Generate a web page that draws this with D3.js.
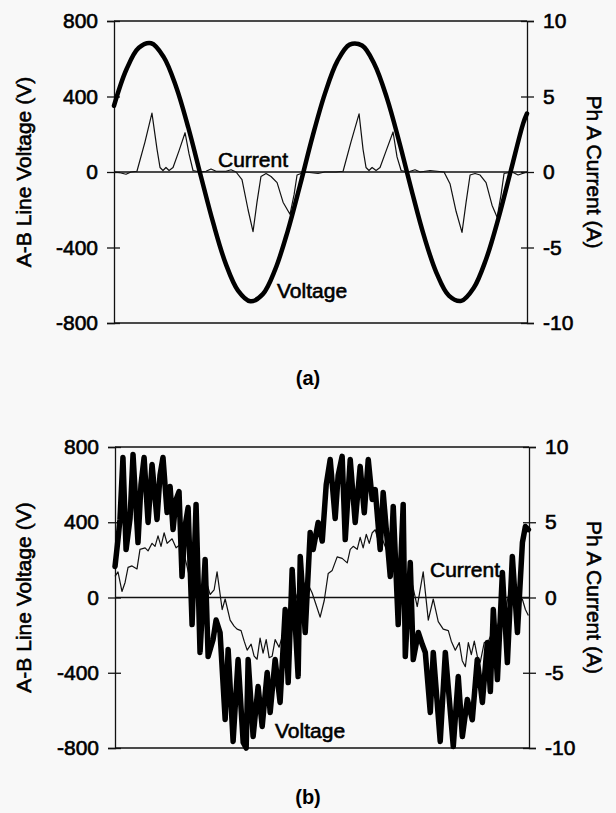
<!DOCTYPE html>
<html>
<head>
<meta charset="utf-8">
<script src="https://cdn.jsdelivr.net/npm/d3@7"></script>
<style>
  body { margin: 0; background: #f8f8f8; }
  svg { display: block; }
  text { font-family: "Liberation Sans", Arial, sans-serif; fill: #000; }
</style>
</head>
<body>
<svg id="board" width="616" height="813"></svg>
<script>
// time in ms, voltage in V, current in A
const voltTicks = [-800, -400, 0, 400, 800];
const ampTicks = [-10, -5, 0, 5, 10];

// (a) sinusoidal supply
const voltageA = [[0,351],[1,543],[2,658],[3,682],[4,610],[5,453],[6,233],[7,-21],[8,-270],[9,-484],
  [10,-628],[11,-685],[12,-647],[13,-516],[14,-314],[15,-70],[16,186],[17,414],[18,586],[19,675],
  [20,670],[21,571],[22,393],[23,159],[24,-98],[25,-340],[26,-534],[27,-655],[28,-683],[29,-615],
  [30,-462],[31,-244],[32,8],[33,259],[33.3,310]];
const currentA = [[0,0],[0.48,-0.05],[0.97,-0.15],[1.37,0],[1.85,0.05],[2.5,2.0],[3.06,3.9],[3.47,1.5],
  [3.71,0.3],[3.95,0.1],[4.19,0.3],[4.44,0.1],[4.76,0.3],[5.24,1.4],[5.73,2.6],[6.05,1.2],[6.37,0.1],
  [6.94,0],[7.42,0.05],[7.82,0.2],[8.23,0.05],[9.03,0.05],[9.44,0.15],[9.84,0],[10.32,-0.5],[10.81,-2.5],
  [11.21,-3.95],[11.53,-2.0],[11.85,-0.3],[12.26,-0.1],[12.66,-0.3],[13.15,-0.7],[13.63,-2.0],[14.19,-2.8],
  [14.52,-1.5],[14.76,-0.2],[15.4,0],[16.45,-0.1],[17.0,0],[17.9,0],[18.47,0.05],[19.11,2.0],[19.76,3.85],
  [20.08,1.5],[20.32,0.3],[20.56,0.1],[20.81,0.3],[21.13,0.1],[21.45,0.3],[21.94,1.4],[22.5,2.65],
  [22.82,1.0],[23.15,0.1],[23.71,0],[24.27,0.15],[24.68,0],[25.48,0.1],[26.05,0.05],[26.61,0],[27.1,-0.8],
  [27.58,-2.6],[28.06,-4.0],[28.39,-2.0],[28.71,-0.2],[29.11,-0.1],[29.52,-0.2],[30.0,-0.7],[30.48,-2.2],
  [30.89,-3.0],[31.21,-1.5],[31.45,-0.1],[32.1,0],[32.58,-0.2],[33.3,0]];

// (b) distorted supply
const voltageB = [[0,165],[0.24,308],[0.40,415],[0.64,744],[0.89,255],[1.21,420],[1.45,760],[1.85,292],
  [2.09,600],[2.34,744],[2.66,399],[2.98,707],[3.38,415],[3.62,650],[3.86,744],[4.19,452],[4.43,590],
  [4.67,361],[4.91,520],[5.15,563],[5.39,112],[5.64,380],[5.88,478],[6.20,-144],[6.52,494],[6.84,-292],
  [7.25,202],[7.49,-313],[7.89,-223],[8.13,-120],[8.45,-186],[8.86,-648],[9.10,-276],[9.50,-765],
  [9.90,-330],[10.31,-771],[10.55,-800],[10.71,-330],[11.11,-739],[11.51,-473],[11.84,-686],[12.24,-399],
  [12.48,-611],[12.88,-330],[13.28,-558],[13.69,-64],[13.93,-452],[14.25,149],[14.73,-420],[14.90,218],
  [15.30,-186],[15.70,346],[15.94,255],[16.34,399],[16.67,300],[16.99,600],[17.31,734],[17.71,420],
  [17.95,650],[18.27,750],[18.52,308],[18.92,734],[19.32,399],[19.72,697],[20.05,450],[20.37,734],
  [20.69,521],[20.93,574],[21.33,255],[21.57,558],[22.14,112],[22.38,484],[22.78,-144],[23.18,494],
  [23.35,-313],[23.75,186],[23.99,-330],[24.40,-186],[24.72,-250],[24.96,-292],[25.36,-611],[25.60,-292],
  [26.16,-765],[26.57,-292],[27.21,-792],[27.61,-420],[27.94,-739],[28.34,-542],[28.74,-650],[29.14,-330],
  [29.55,-558],[29.95,-239],[30.19,-500],[30.43,-64],[30.76,-436],[31.16,133],[31.56,-346],[31.96,218],
  [32.37,-186],[32.77,292],[33.01,377],[33.25,361]];
const currentB = [[0,1.4],[0.24,1.7],[0.56,0.4],[0.81,1.0],[1.05,2.0],[1.37,2.1],[1.77,1.9],[2.01,3.2],
  [2.42,3.3],[2.66,3.1],[2.98,3.6],[3.22,3.4],[3.46,4.1],[3.70,3.4],[3.95,4.3],[4.19,3.6],[4.59,3.9],
  [4.91,3.3],[5.23,3.5],[5.64,2.6],[6.04,1.2],[6.44,0.8],[6.84,0.3],[7.25,1.3],[7.65,0.2],[7.97,0.5],
  [8.21,1.7],[8.62,-0.8],[8.86,-0.1],[9.26,-1.5],[9.58,-1.9],[9.82,-2.1],[10.14,-2.2],[10.39,-2.9],
  [10.63,-3.5],[10.95,-3.1],[11.19,-3.9],[11.43,-4.1],[11.67,-2.7],[11.91,-3.7],[12.16,-2.8],[12.40,-4.0],
  [12.64,-3.9],[12.88,-2.8],[13.20,-3.3],[13.52,-2.4],[13.85,-1.7],[14.25,-0.8],[14.65,0.2],[15.05,0.9],
  [15.46,1.0],[15.86,0.3],[16.18,-0.5],[16.50,-1.3],[16.83,-0.2],[17.15,1.6],[17.47,1.8],[17.87,2.7],
  [18.27,2.6],[18.68,2.3],[18.92,3.2],[19.16,3.4],[19.48,3.2],[19.72,4.0],[19.96,3.3],[20.21,4.2],
  [20.45,3.6],[20.69,4.3],[20.93,4.5],[21.17,3.8],[21.49,3.9],[21.82,3.2],[22.14,2.6],[22.70,1.2],
  [23.10,0.7],[23.51,0.1],[23.91,0.9],[24.31,-0.6],[24.79,1.7],[25.20,-1.5],[25.60,-0.1],[26.00,-1.6],
  [26.40,-2.1],[26.81,-2.2],[27.05,-2.9],[27.37,-3.5],[27.69,-3.0],[27.93,-4.2],[28.18,-4.6],[28.42,-3.0],
  [28.66,-3.8],[28.90,-2.9],[29.14,-3.9],[29.38,-4.3],[29.70,-3.0],[30.03,-2.9],[30.35,-2.3],[30.75,-1.9],
  [31.15,-1.0],[31.48,-0.5],[31.80,0.7],[32.12,-0.3],[32.44,0.5],[32.76,-0.1],[33.01,-0.8],[33.25,-1.2]];

const svg = d3.select("#board");

function drawPanel(cfg) {
    const x = d3.scaleLinear().domain([0, 33.3]).range([cfg.left, cfg.right]);
    const yV = d3.scaleLinear().domain([-800, 800]).range([cfg.bottom, cfg.top]);
    const yI = d3.scaleLinear().domain([-10, 10]).range([cfg.bottom, cfg.top]);
    const g = svg.append("g");

    // frame + zero line
    g.append("line").attr("x1", cfg.left).attr("x2", cfg.right).attr("y1", cfg.top).attr("y2", cfg.top)
        .attr("stroke", "#111").attr("stroke-width", 1.3);
    g.append("line").attr("x1", cfg.left).attr("x2", cfg.right).attr("y1", cfg.bottom).attr("y2", cfg.bottom)
        .attr("stroke", "#111").attr("stroke-width", 1.3);
    g.append("line").attr("x1", cfg.left).attr("x2", cfg.right).attr("y1", yV(0)).attr("y2", yV(0))
        .attr("stroke", "#111").attr("stroke-width", 1.3);

    const left = g.append("g").attr("transform", `translate(${cfg.left},0)`)
        .call(d3.axisLeft(yV).tickValues(voltTicks).tickSize(7).tickPadding(9).tickFormat(d => String(d)));
    const right = g.append("g").attr("transform", `translate(${cfg.right},0)`)
        .call(d3.axisRight(yI).tickValues(ampTicks).tickSize(7).tickPadding(9).tickFormat(d => String(d)));
    [left, right].forEach(a => {
        a.select(".domain").attr("stroke", "#111").attr("stroke-width", 1.3);
        a.selectAll(".tick line").attr("stroke", "#111").attr("stroke-width", 1.3);
        a.selectAll(".tick text").attr("font-size", 21).attr("font-family", "Liberation Sans, Arial")
            .attr("fill", "#000").attr("stroke", "#000").attr("stroke-width", 0.6);
    });
    left.selectAll(".tick line").attr("x2", 6).attr("x1", -7);
    right.selectAll(".tick line").attr("x1", -6);

    const line = d3.line().x(d => x(d[0]));
    g.append("path").datum(cfg.current)
        .attr("fill", "none").attr("stroke", "#111").attr("stroke-width", 1.2).attr("stroke-linejoin", "round")
        .attr("d", line.y(d => yI(d[1])).curve(d3.curveLinear));
    g.append("path").datum(cfg.voltage)
        .attr("fill", "none").attr("stroke", "#000").attr("stroke-width", cfg.vWidth)
        .attr("stroke-linejoin", "round").attr("stroke-linecap", "round")
        .attr("d", d3.line().x(d => x(d[0])).y(d => yV(d[1])).curve(cfg.vCurve));

    const mid = yV(0);
    g.append("text").attr("transform", `translate(24,${mid}) rotate(-90)`)
        .attr("text-anchor", "middle").attr("dy", "0.35em").attr("font-size", 21)
        .attr("stroke", "#000").attr("stroke-width", 0.6).text("A-B Line Voltage (V)");
    g.append("text").attr("transform", `translate(594,${mid}) rotate(90)`)
        .attr("text-anchor", "middle").attr("dy", "0.35em").attr("font-size", 21)
        .attr("stroke", "#000").attr("stroke-width", 0.6).text("Ph A Current (A)");

    g.append("text").attr("x", cfg.curLabel[0]).attr("y", cfg.curLabel[1]).attr("font-size", 21)
        .attr("stroke", "#000").attr("stroke-width", 0.6).text("Current");
    g.append("text").attr("x", cfg.volLabel[0]).attr("y", cfg.volLabel[1]).attr("font-size", 21)
        .attr("stroke", "#000").attr("stroke-width", 0.6).text("Voltage");
    g.append("text").attr("x", 308).attr("y", cfg.capY).attr("text-anchor", "middle")
        .attr("font-family", "Liberation Serif, Times New Roman, serif").attr("font-weight", "bold")
        .attr("font-size", 20).text(cfg.caption);
}

drawPanel({left: 114, right: 527, top: 21, bottom: 323, voltage: voltageA, current: currentA,
    vWidth: 4.5, vCurve: d3.curveCatmullRom, curLabel: [218, 167], volLabel: [277, 298],
    capY: 385, caption: "(a)"});
drawPanel({left: 115, right: 529, top: 447, bottom: 748, voltage: voltageB, current: currentB,
    vWidth: 5.5, vCurve: d3.curveLinear, curLabel: [430, 577], volLabel: [275, 738],
    capY: 804, caption: "(b)"});
</script>
</body>
</html>
